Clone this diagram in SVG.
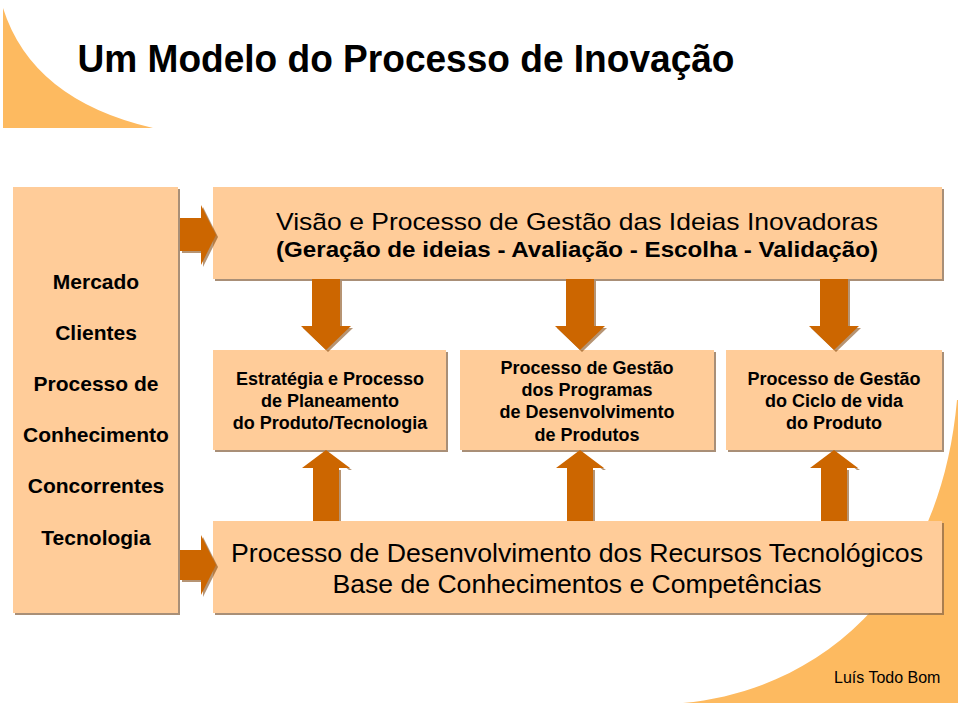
<svg xmlns="http://www.w3.org/2000/svg" width="960" height="705" viewBox="0 0 960 705">
<style>
.deco{fill:#FDBA60}
.box{fill:#FFCC99}
.sh{fill:#8C6A4A;opacity:.75}
.arr{fill:#CC6600}
.ash{fill:#7A3D00;opacity:.55}
.t{font-family:"Liberation Sans",Arial,sans-serif;fill:#000;text-anchor:middle}
.b{font-weight:bold}
</style>
<rect width="960" height="705" fill="#fff"/>
<path class="deco" d="M3,8 Q32,100 153,128 L3,128 Z"/>
<path class="deco" d="M683,703 C820,690 940,590 957,400 L958,400 L958,703 Z"/>
<text class="t b" x="406" y="72" font-size="38" textLength="657" lengthAdjust="spacingAndGlyphs">Um Modelo do Processo de Inovação</text>

<g id="external">
<rect class="sh" x="15" y="189" width="165" height="426"/>
<rect class="box" x="13" y="187" width="165" height="426"/>
<g class="t b" font-size="21">
<text x="96" y="289">Mercado</text>
<text x="96" y="340">Clientes</text>
<text x="96" y="391">Processo de</text>
<text x="96" y="442">Conhecimento</text>
<text x="96" y="493">Concorrentes</text>
<text x="96" y="545">Tecnologia</text>
</g>
</g>

<g id="ideas">
<rect class="sh" x="215" y="189" width="729" height="92"/>
<rect class="box" x="213" y="187" width="729" height="92"/>
<text class="t" x="577" y="230" font-size="24" textLength="602" lengthAdjust="spacingAndGlyphs">Visão e Processo de Gestão das Ideias Inovadoras</text>
<text class="t b" x="577" y="257" font-size="22" textLength="602" lengthAdjust="spacingAndGlyphs">(Geração de ideias - Avaliação - Escolha - Validação)</text>
</g>

<g id="strategy">
<rect class="sh" x="215" y="352" width="233" height="100"/>
<rect class="box" x="213" y="350" width="233" height="100"/>
<g class="t b" font-size="18">
<text x="330" y="385">Estratégia e Processo</text>
<text x="330" y="407">de Planeamento</text>
<text x="330" y="429">do Produto/Tecnologia</text>
</g>
</g>

<g id="programs">
<rect class="sh" x="462" y="352" width="254" height="100"/>
<rect class="box" x="460" y="350" width="254" height="100"/>
<g class="t b" font-size="18">
<text x="587" y="374">Processo de Gestão</text>
<text x="587" y="396">dos Programas</text>
<text x="587" y="418">de Desenvolvimento</text>
<text x="587" y="441">de Produtos</text>
</g>
</g>

<g id="lifecycle">
<rect class="sh" x="728" y="352" width="216" height="100"/>
<rect class="box" x="726" y="350" width="216" height="100"/>
<g class="t b" font-size="18">
<text x="834" y="385">Processo de Gestão</text>
<text x="834" y="407">do Ciclo de vida</text>
<text x="834" y="429">do Produto</text>
</g>
</g>

<g id="resources">
<rect class="sh" x="215" y="523" width="729" height="92"/>
<rect class="box" x="213" y="521" width="729" height="92"/>
<text class="t" x="577" y="562" font-size="26" textLength="692" lengthAdjust="spacingAndGlyphs">Processo de Desenvolvimento dos Recursos Tecnológicos</text>
<text class="t" x="577" y="593" font-size="26" textLength="489" lengthAdjust="spacingAndGlyphs">Base de Conhecimentos e Competências</text>
</g>

<g id="connectors">
<g transform="translate(2,2)" class="ash">
<path d="M180,218 H201 V205 L216,235 L201,265 V251 H180 Z"/>
<path d="M180,550 H201 V535 L216,565 L201,595 V580 H180 Z"/>
<path d="M312,279 H340 V326 H351 L326,350 L301,326 H312 Z"/>
<path d="M566,279 H594 V326 H605 L580,350 L555,326 H566 Z"/>
<path d="M820,279 H848 V326 H859 L834,350 L809,326 H820 Z"/>
</g>
<path class="arr" d="M180,218 H201 V205 L216,235 L201,265 V251 H180 Z"/>
<path class="arr" d="M180,550 H201 V535 L216,565 L201,595 V580 H180 Z"/>
<path class="arr" d="M312,279 H340 V326 H351 L326,350 L301,326 H312 Z"/>
<path class="arr" d="M566,279 H594 V326 H605 L580,350 L555,326 H566 Z"/>
<path class="arr" d="M820,279 H848 V326 H859 L834,350 L809,326 H820 Z"/>
<path class="ash" d="M339,470 V521 H341 V470 Z M326,452 L352,470 H349 Z"/>
<path class="arr" d="M313,521 V468 H302 L326,450 L350,468 H339 V521 Z"/>
<path class="ash" d="M593,470 V521 H595 V470 Z M580,452 L606,470 H603 Z"/>
<path class="arr" d="M567,521 V468 H556 L580,450 L604,468 H593 V521 Z"/>
<path class="ash" d="M847,470 V521 H849 V470 Z M834,452 L860,470 H857 Z"/>
<path class="arr" d="M821,521 V468 H810 L834,450 L858,468 H847 V521 Z"/>
</g>

<text x="834" y="683" font-family="'Liberation Sans',Arial,sans-serif" font-size="16" fill="#000">Luís Todo Bom</text>
</svg>
